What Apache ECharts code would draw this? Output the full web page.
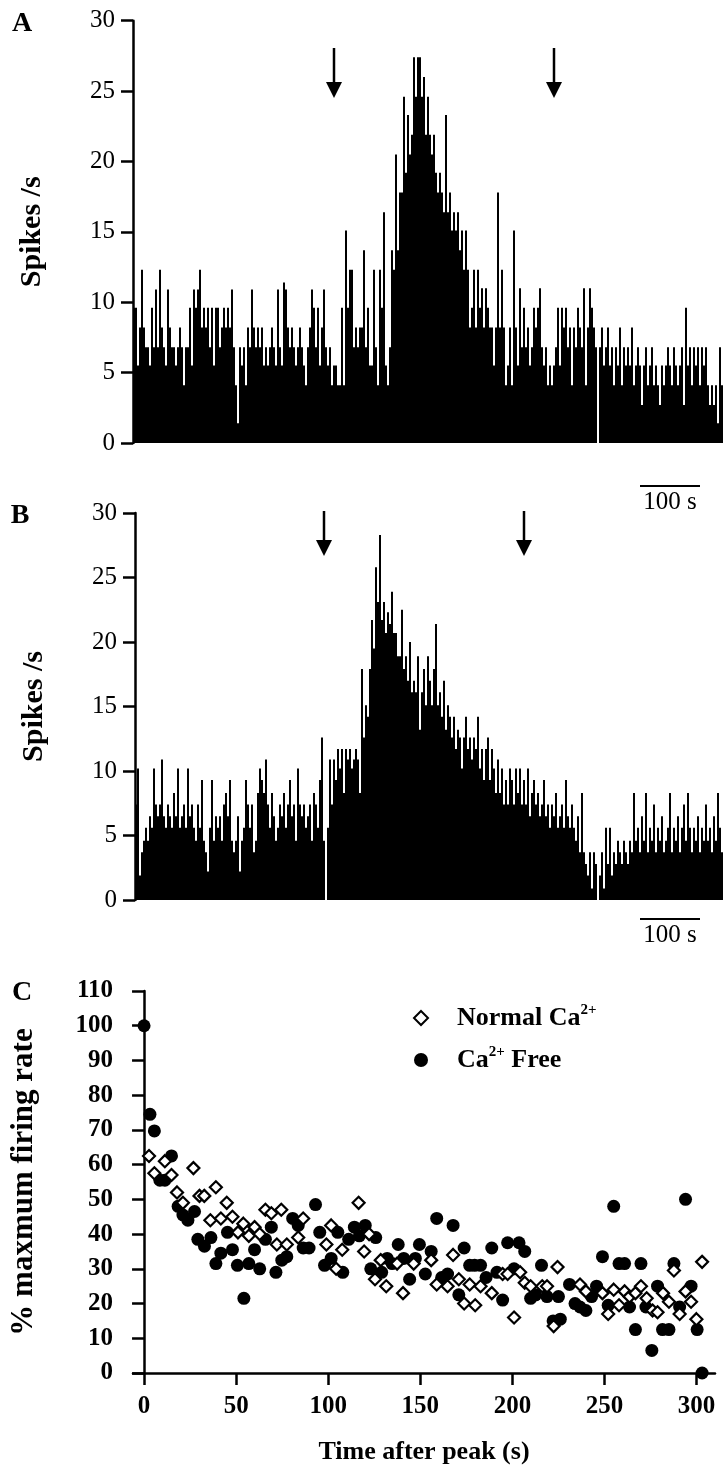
<!DOCTYPE html>
<html><head><meta charset="utf-8">
<script src="https://cdn.jsdelivr.net/npm/echarts@6/dist/echarts.min.js"></script>
<style>html,body{margin:0;padding:0;background:#fff}#c{width:723px;height:1476px}</style>
</head><body><div id="c"></div>
<script>
// Panel A: spikes/s per bin
const spikesA = [
9.6,9.6,5.5,8.2,12.3,8.2,6.8,6.8,5.5,9.6,
6.8,10.9,6.8,12.3,8.2,6.8,5.5,10.9,8.2,6.8,
6.8,5.5,6.8,8.2,6.8,4.1,6.8,6.8,9.6,5.5,
10.9,9.6,10.9,12.3,8.2,9.6,8.2,9.6,6.8,9.6,
5.5,9.6,9.6,6.8,8.2,9.6,8.2,9.6,8.2,10.9,
6.8,4.1,1.4,6.8,5.5,6.8,4.1,8.2,6.8,10.9,
8.2,6.8,8.2,6.8,8.2,5.5,6.8,5.5,6.8,8.2,
6.8,5.5,10.9,6.8,5.5,11.4,10.9,8.2,6.8,8.2,
6.8,5.5,6.8,8.2,6.8,5.5,4.1,6.8,8.2,10.9,
9.6,6.8,9.6,5.5,8.2,10.9,6.8,5.5,6.8,4.1,
5.5,5.5,4.1,4.1,9.6,4.1,15.1,9.6,12.3,12.3,
6.8,8.2,6.8,8.2,8.2,13.7,6.8,9.6,5.5,5.5,
12.3,6.8,4.1,12.3,9.6,16.4,5.5,4.1,6.8,13.7,
12.3,20.5,13.7,17.8,17.8,24.6,19.2,23.3,20.5,21.9,
27.4,24.6,27.4,27.4,24.6,26,21.9,24.6,21.9,20.5,
21.9,19.2,17.8,19.2,17.8,16.4,23.3,16.4,17.8,15.1,
16.4,15.1,16.4,13.7,15.1,12.3,15.1,12.3,8.2,9.6,
12.3,8.2,12.3,9.6,11,8.2,11,9.6,8.2,8.2,
5.5,8.2,17.8,8.2,12.3,8.2,4.1,5.5,8.2,4.1,
15.1,8.2,5.5,11,6.8,9.6,6.8,8.2,5.5,6.8,
9.6,8.2,9.6,11,6.8,5.5,6.8,4.1,5.5,4.1,
5.5,6.8,9.6,5.5,9.6,8.2,9.6,6.8,8.2,4.1,
8.2,6.8,9.6,8.2,6.8,11,4.1,8.2,11,9.6,
8.2,6.8,0,6.8,8.2,5.5,6.8,8.2,5.5,6.8,
4.1,6.8,5.5,8.2,4.1,6.8,5.5,6.8,5.5,8.2,
4.1,5.5,6.8,5.5,2.7,5.5,6.8,4.1,5.5,6.8,
4.1,5.5,4.1,2.7,5.5,4.1,5.5,6.8,5.5,4.1,
6.8,5.5,4.1,5.5,6.8,2.7,9.6,5.5,6.8,4.1,
6.8,5.5,6.8,4.1,6.8,5.5,6.8,4.1,2.7,4.1,
2.7,4.1,1.4,6.8,4.1
];
// Panel B: spikes/s per bin
const spikesB = [
7.4,10.2,1.9,3.7,4.6,5.6,4.6,6.5,5.6,10.2,
7.4,6.5,7.4,10.9,6.5,5.6,7.4,6.5,5.6,8.3,
6.5,10.2,5.6,6.5,7.4,5.6,10.2,6.5,7.4,5.6,
4.6,7.4,5.6,9.3,4.6,3.7,2.2,5.6,9.3,4.6,
6.5,5.6,6.5,4.6,7.4,8.3,6.5,9.3,4.6,3.7,
4.6,6.5,2.2,4.6,5.6,9.3,7.4,5.6,7.4,3.7,
4.6,8.3,10.2,9.3,8.3,10.9,7.4,5.6,8.3,6.5,
4.6,5.6,7.4,6.5,8.3,5.6,7.4,9.3,6.5,7.4,
4.6,10.2,7.4,6.5,7.4,5.6,6.5,7.4,4.6,8.3,
7.4,5.6,9.3,12.6,4.6,0,5.6,10.9,7.4,10.9,
9.3,11.7,10.2,11.7,8.3,11.7,10.9,11.7,10.2,10.9,
11.7,10.9,8.3,17.9,12.6,15.1,14.2,17.9,21.7,19.5,
25.8,23.1,28.3,21.7,23.1,20.7,22.3,21.4,23.9,20.7,
20.7,18.9,18.9,22.5,17.9,18.9,17,20,16.1,17,
16.1,18.9,13.2,16.1,17.9,15.1,18.9,17,15.1,17.9,
21.4,15.1,16.1,14.2,17,13.2,15.1,14.2,12.6,14.2,
11.7,13.2,12.6,10.2,12.6,14.2,11.7,12.6,10.9,12.6,
11.7,14.2,10.2,11.7,9.3,11.7,12.6,9.3,11.7,10.2,
8.3,10.9,8.3,10.2,7.4,9.3,7.4,10.2,9.3,7.4,
10.2,8.3,10.2,7.4,9.3,7.4,10.2,6.5,8.3,9.3,
7.4,8.3,6.5,7.4,9.3,6.5,7.4,5.6,7.4,6.5,
8.3,5.6,6.5,7.4,5.6,9.3,6.5,5.6,7.4,5.6,
4.6,6.5,3.7,8.3,3.7,2.8,1.9,3.7,0.9,3.7,
2.8,0,1.9,3.7,0.9,5.6,2.8,5.6,1.9,3.7,
2.8,4.6,3.7,2.8,4.6,3.7,2.8,4.6,3.7,8.3,
4.6,5.6,3.7,6.5,4.6,8.3,3.7,5.6,4.6,7.4,
3.7,5.6,4.6,6.5,3.7,4.6,5.6,8.3,3.7,5.6,
4.6,6.5,3.7,5.6,7.4,4.6,8.3,5.6,3.7,5.6,
4.6,6.5,3.7,5.6,4.6,7.4,4.6,5.6,3.7,6.5,
4.6,8.3,5.6,3.7
];
// bin indices where the arrows point
const arrowBinsA = [100, 210];
const arrowBinsB = [94, 194];
// Panel C: [time after peak (s), % maximum firing rate]
const normalCa = [
[2.7,62.5],[5.6,57.5],[11.3,61],[14.9,57],[17.9,52],[21.1,49],[26.8,59],[30.1,51],[32.7,51],[36,44],
[39,53.5],[41.7,44.5],[44.9,49],[48,45],[51,40.5],[53.9,43],[56.9,39.5],[60,42],[62.8,40],[65.9,47],
[69.1,46],[72.1,37],[74.5,47],[77.5,37],[83.7,39],[86.4,44.5],[99,37],[101.6,42.5],[104.3,30],[107.6,35.5],
[116.5,49],[119.5,35],[122.2,40],[125.4,27],[128.5,32.5],[131.5,25],[137.4,31.5],[140.6,23],[146.4,31.5],[155.9,32.5],
[158.9,25.5],[164.8,25],[167.8,34],[170.9,27],[173.8,20],[176.8,25.5],[179.8,19.5],[182.7,25],[188.8,23],[194.7,28.5],
[197.4,28.5],[200.9,16],[204.2,29],[206.7,26],[209.9,25],[216.2,25],[218.8,25],[222.4,13.5],[224.5,30.5],[236.7,25.5],
[239.9,23.5],[248.9,23],[252,17],[255,24],[257.9,19.5],[260.9,23.5],[263.6,22],[266.8,23],[269.8,25],[272.9,21.5],
[276.1,18],[278.8,17.5],[281.8,23],[285,20.5],[287.7,29.5],[290.8,17],[294,23.5],[297,20.5],[299.9,15.5],[303,32]
];
const caFree = [
[0,100],[3.2,74.5],[5.6,69.7],[8.6,55.5],[11.3,55.5],[14.9,62.5],[18.5,48],[21.1,45.5],[23.8,44],[27.4,46.5],
[29.2,38.5],[32.8,36.5],[36.3,39],[39,31.5],[41.7,34.5],[45.3,40.5],[48,35.5],[50.7,31],[54.2,21.5],[56.9,31.5],
[60,35.5],[62.8,30],[65.9,38.5],[69.1,42],[71.6,29],[74.8,32.5],[77.5,33.5],[80.7,44.5],[83.7,42.5],[86.4,36],
[89.6,36],[93.1,48.5],[95.4,40.5],[98,31],[101.6,33],[105.2,40.5],[107.9,29],[111.1,38.5],[114.2,42],[116.9,39.5],
[120.1,42.5],[123.1,30],[125.8,39],[129,29],[132,33],[134.7,31.5],[138,37],[141,33],[144.2,27],[147.3,33],
[149.5,37],[152.7,28.5],[155.9,35],[158.9,44.5],[161.6,27.5],[164.8,28.5],[167.8,42.5],[170.9,22.5],[173.8,36],[176.8,31],
[179.5,31],[182.7,31],[185.7,27.5],[188.8,36],[191.6,29],[194.7,21],[197.4,37.5],[200.9,30],[203.6,37.5],[206.7,35],
[209.9,21.5],[212.6,22.5],[215.8,31],[218.8,22],[222.1,15],[225,22],[226,15.5],[231,25.5],[234,20],[236.7,19],
[239.9,18],[243,22],[245.7,25],[248.9,33.5],[252,19.5],[255,48],[257.9,31.5],[260.9,31.5],[263.6,19],[266.8,12.5],
[269.8,31.5],[272.5,19],[275.7,6.5],[278.8,25],[281.5,12.5],[285,12.5],[287.7,31.5],[290.8,19],[294,50],[297,25],
[300.3,12.5],[303,0]
];
const xTicksC = [0, 50, 100, 150, 200, 250, 300];
const seriesNames = ['Normal Ca2+', 'Ca2+ Free'];

const serif = '"Liberation Serif","Times New Roman",serif';
const binsA = spikesA.map((_, i) => i);
const binsB = spikesB.map((_, i) => i);
const axLine = {color: '#000', width: 2.5};

function histY(idx, name) {
  return {
    type: 'value', gridIndex: idx, min: 0, max: 30, interval: 5,
    axisLine: {show: true, lineStyle: axLine},
    axisTick: {show: true, length: 12, lineStyle: axLine},
    axisLabel: {fontFamily: serif, fontSize: 25, color: '#000', margin: 18},
    splitLine: {show: false},
    name: name, nameLocation: 'middle', nameGap: 86,
    nameTextStyle: {fontFamily: serif, fontWeight: 'bold', fontSize: 30, color: '#000'}
  };
}
function histX(idx, data) {
  return {type: 'category', gridIndex: idx, data: data,
    axisLine: {show: false}, axisTick: {show: false}, axisLabel: {show: false}, splitLine: {show: false}};
}

const chart = echarts.init(document.getElementById('c'), null, {renderer: 'canvas', width: 723, height: 1476});
chart.setOption({
  animation: false,
  backgroundColor: '#fff',
  grid: [
    {left: 133, top: 20.7, width: 590, height: 422.3},
    {left: 135, top: 513, width: 588, height: 387},
    {left: 126, top: 991, width: 589, height: 382}
  ],
  xAxis: [
    histX(0, binsA),
    histX(1, binsB),
    {
      type: 'value', gridIndex: 2, min: -6, max: 310,
      axisLine: {onZero: true, lineStyle: axLine},
      axisTick: {length: 12, lineStyle: axLine, customValues: xTicksC},
      axisLabel: {customValues: xTicksC, fontFamily: serif, fontWeight: 'bold', fontSize: 25, color: '#000', margin: 21},
      splitLine: {show: false},
      name: 'Time after peak (s)', nameLocation: 'middle', nameGap: 66,
      nameTextStyle: {fontFamily: serif, fontWeight: 'bold', fontSize: 26, color: '#000'}
    }
  ],
  yAxis: [
    histY(0, 'Spikes /s'),
    histY(1, 'Spikes /s'),
    {
      type: 'value', gridIndex: 2, min: 0, max: 110, interval: 10,
      axisLine: {show: true, onZero: true, lineStyle: axLine},
      axisTick: {show: true, length: 12, lineStyle: axLine},
      axisLabel: {fontFamily: serif, fontWeight: 'bold', fontSize: 25, color: '#000', margin: 20},
      splitLine: {show: false},
      name: '% maxmum firing rate', nameLocation: 'middle', nameGap: 94,
      nameTextStyle: {fontFamily: serif, fontWeight: 'bold', fontSize: 31, color: '#000'}
    }
  ],
  legend: {
    data: seriesNames, orient: 'vertical', left: 408, top: 998,
    itemWidth: 14, itemHeight: 14, itemGap: 14,
    formatter: function (n) { return n === seriesNames[0] ? 'Normal Ca{s|2+}' : 'Ca{s|2+} Free'; },
    textStyle: {
      fontFamily: serif, fontWeight: 'bold', fontSize: 26, color: '#000', padding: [0, 0, 0, 24],
      rich: {s: {fontFamily: serif, fontWeight: 'bold', fontSize: 15, color: '#000', verticalAlign: 'top', lineHeight: 30}}
    }
  },
  series: [
    {type: 'bar', xAxisIndex: 0, yAxisIndex: 0, data: spikesA, barCategoryGap: '0%', barGap: '0%',
     itemStyle: {color: '#000'}, silent: true},
    {type: 'bar', xAxisIndex: 1, yAxisIndex: 1, data: spikesB, barCategoryGap: '0%', barGap: '0%',
     itemStyle: {color: '#000'}, silent: true},
    {name: seriesNames[1], type: 'scatter', xAxisIndex: 2, yAxisIndex: 2, data: caFree,
     symbol: 'circle', symbolSize: 13, itemStyle: {color: '#000', opacity: 1}, clip: false},
    {name: seriesNames[0], type: 'scatter', xAxisIndex: 2, yAxisIndex: 2, data: normalCa,
     symbol: 'diamond', symbolSize: 12, itemStyle: {color: '#fff', borderColor: '#000', borderWidth: 2.2, opacity: 1}, clip: false}
  ]
});

function arrow(x, yTop, yTip) {
  return [
    {type: 'line', shape: {x1: x, y1: yTop, x2: x, y2: yTip - 12}, style: {stroke: '#000', lineWidth: 2.5}},
    {type: 'polygon', shape: {points: [[x - 8, yTip - 16], [x + 8, yTip - 16], [x, yTip]]}, style: {fill: '#000'}}
  ];
}
function letter(t, x, y) {
  return {type: 'text', x: x, y: y, style: {text: t, font: 'bold 28px ' + serif, fill: '#000', align: 'center', verticalAlign: 'middle'}};
}
function scaleBar(y) {
  return [
    {type: 'line', shape: {x1: 640, y1: y, x2: 700, y2: y}, style: {stroke: '#000', lineWidth: 2}},
    {type: 'text', x: 670, y: y + 16, style: {text: '100 s', font: '25px ' + serif, fill: '#000', align: 'center', verticalAlign: 'middle'}}
  ];
}
const g = [];
arrowBinsA.forEach(b => { g.push(...arrow(chart.convertToPixel({xAxisIndex: 0}, b), 48, 98)); });
arrowBinsB.forEach(b => { g.push(...arrow(chart.convertToPixel({xAxisIndex: 1}, b), 511, 556)); });
g.push(letter('A', 22, 24), letter('B', 20, 516), letter('C', 22, 993));
g.push(...scaleBar(486), ...scaleBar(919));
chart.setOption({graphic: g});
</script></body></html>
